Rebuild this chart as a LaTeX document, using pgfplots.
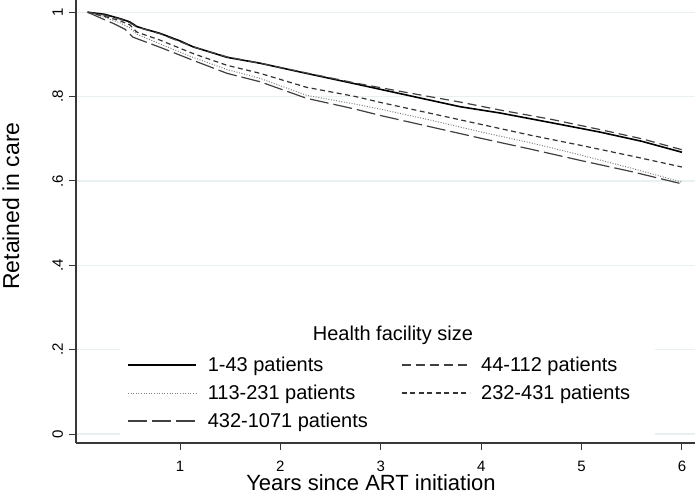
\documentclass[border=0pt]{standalone}
\usepackage{pgfplots}
\pgfplotsset{compat=1.18}
\usepackage{fontspec}
\setmainfont{Liberation Sans}
\definecolor{gridc}{RGB}{232,240,242}
\definecolor{axc}{RGB}{55,55,55}

\pgfplotstableread{
x y
0.08 1.000
0.25 0.995
0.40 0.985
0.50 0.977
0.57 0.966
0.65 0.960
0.80 0.950
1.00 0.932
1.13 0.918
1.47 0.893
1.80 0.879
2.26 0.855
2.75 0.830
3.25 0.804
3.79 0.776
4.19 0.761
4.70 0.738
5.18 0.716
5.60 0.694
6.00 0.668
}\sA
\pgfplotstableread{
x y
0.08 1.000
0.25 0.993
0.40 0.984
0.50 0.975
0.57 0.965
0.80 0.949
1.13 0.918
1.47 0.894
1.80 0.879
2.26 0.856
2.75 0.832
3.25 0.810
3.79 0.787
4.19 0.768
4.70 0.746
5.18 0.722
5.60 0.700
6.00 0.674
}\sB
\pgfplotstableread{
x y
0.08 1.000
0.25 0.988
0.40 0.975
0.50 0.963
0.57 0.948
0.80 0.925
1.13 0.893
1.47 0.864
1.80 0.843
2.26 0.803
2.75 0.782
3.00 0.770
3.50 0.744
4.00 0.716
4.50 0.690
5.00 0.661
5.50 0.630
6.00 0.597
}\sC
\pgfplotstableread{
x y
0.08 1.000
0.25 0.990
0.40 0.980
0.50 0.970
0.57 0.953
0.80 0.934
1.13 0.902
1.47 0.874
1.80 0.855
2.26 0.822
2.75 0.800
3.00 0.786
3.50 0.760
4.00 0.734
4.50 0.708
5.00 0.684
5.50 0.659
6.00 0.633
}\sD
\pgfplotstableread{
x y
0.08 1.000
0.25 0.982
0.34 0.973
0.45 0.960
0.53 0.941
0.80 0.917
1.13 0.886
1.47 0.855
1.80 0.835
2.26 0.796
2.75 0.770
3.00 0.755
3.50 0.728
4.00 0.701
4.50 0.675
5.00 0.648
5.50 0.622
6.00 0.593
}\sE

\begin{document}
\begin{tikzpicture}
\begin{axis}[
  scale only axis, width=619pt, height=443pt,
  xmin=-0.036, xmax=6.13, ymin=-0.0213, ymax=1.029,
  axis x line*=bottom, axis y line*=left,
  axis line style={axc, line width=1.1pt, -},
  xtick={1,2,3,4,5,6}, xticklabels={1,2,3,4,5,6},
  ytick={0,0.2,0.4,0.6,0.8,1}, yticklabels={0,.2,.4,.6,.8,1},
  tick align=outside, major tick length=7pt,
  tick style={axc, line width=1pt},
  ymajorgrids, grid style={gridc, line width=1.2pt},
  ticklabel style={font=\fontsize{15}{18}\selectfont},
  xticklabel style={anchor=base, yshift=-21pt, inner sep=0pt},
  yticklabel style={rotate=90, anchor=base, yshift=6pt, inner sep=0pt},
  xlabel={Years since ART initiation},
  xlabel style={at={(rel axis cs:0.4766,0)}, anchor=base, yshift=-47.5pt, inner sep=0pt, font=\fontsize{22}{26}\selectfont},
  ylabel={Retained in care},
  ylabel style={at={([xshift=-65pt]rel axis cs:0,0.535)}, anchor=center, inner sep=0pt, font=\fontsize{23}{27}\selectfont},
  legend columns=2,
  legend cell align=left,
  legend image code/.code={\draw[#1] (0pt,0pt) -- (68pt,0pt);},
  legend style={at={(rel axis cs:0.0824,0.199)}, anchor=north west, draw=none, fill=none,
    inner sep=0pt, row sep=8pt, font=\fontsize{20}{24}\selectfont,
    /tikz/every odd column/.append style={column sep=9pt},
    /tikz/every even column/.append style={column sep=31pt}},
]
\fill[white] (rel axis cs:0.071,0.004) rectangle (rel axis cs:0.935,0.28);
\node[font=\fontsize{20}{24}\selectfont] at (rel axis cs:0.512,0.2435) {Health facility size};
\addplot[black, line width=1.6pt] table {\sA};
\addlegendentry{1-43 patients}
\addplot[black!75, line width=1.2pt, dash pattern=on 9pt off 5pt] table {\sB};
\addlegendentry{44-112 patients}
\addplot[black!50, line width=1pt, dash pattern=on 1pt off 1.6pt] table {\sC};
\addlegendentry{113-231 patients}
\addplot[black!80, line width=1.2pt, dash pattern=on 5pt off 3.5pt] table {\sD};
\addlegendentry{232-431 patients}
\addplot[black!75, line width=1.2pt, dash pattern=on 19pt off 5pt] table {\sE};
\addlegendentry{432-1071 patients}
\end{axis}
\pgfresetboundingbox
\path ([xshift=-76pt,yshift=-50pt]current axis.south west) rectangle (current axis.north east);
\end{tikzpicture}
\end{document}
